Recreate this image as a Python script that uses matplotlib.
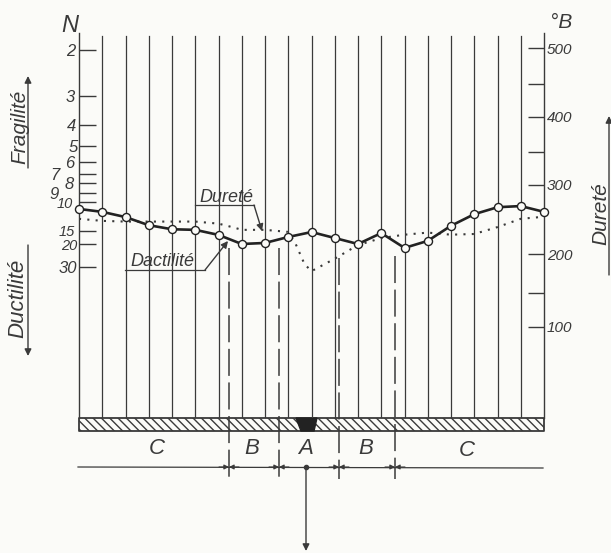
import matplotlib
matplotlib.use('Agg')
import matplotlib.pyplot as plt
import numpy as np

plt.rcParams['font.family'] = ['Liberation Sans', 'DejaVu Sans']
plt.rcParams['font.style'] = 'italic'
plt.rcParams['hatch.linewidth'] = 1.0
plt.rcParams['hatch.color'] = '#3a3a3a'

INK = '#3a3a3a'
PAPER = '#fbfbf8'

# stations along the welded plate
stations = np.arange(21)

# solid curve, read on the left N scale
ductilite_n = [11.2, 11.7, 12.6, 14.0, 14.7, 14.8, 16.5, 20.0, 19.6, 17.3, 15.4,
               17.7, 20.0, 15.8, 21.7, 18.8, 14.1, 12.1, 10.9, 10.7, 11.7]

# dotted curve, read on the right Brinell scale
durete_x = [0, 1, 2, 3, 4, 5, 6, 6.7, 7, 8, 9, 9.3, 9.7, 10, 11, 12, 13, 14, 15, 16, 17, 18, 19, 20]
durete_hb = [251, 248, 247, 247, 247, 247, 244, 238, 235, 235, 232, 216, 187, 178,
             194, 213, 223, 228, 231, 228, 229, 239, 251, 254]

# both scales are hand drawn and not quite regular, so keep where each tick sits
n_ticks = [2, 3, 4, 5, 6, 7, 8, 9, 10, 15, 20, 30]
n_tick_px = [50, 96, 125, 146, 162, 174, 183, 193, 202, 231, 244, 267]
n_labels = ['2', '3', '4', '5', '6', '7', '8', '9', '10', '15', '20', '30']
n_pads = [2.9, 2.9, 2.2, 0.7, 3.6, 13.7, 3.6, 14.6, 4.3, 2.9, 1.4, 1.4]

hb_ticks = [100, 150, 200, 300, 350, 400, 450, 500]
hb_tick_px = [327, 293, 254, 185, 152, 117, 84, 48]
hb_labels = ['100', '', '200', '300', '', '400', '', '500']

zones = ['C', 'B', 'A', 'B', 'C']
zone_x = [157, 252, 306, 366, 467]
zone_y = [449, 449, 449, 449, 451]
limits_px = [229, 279, 339, 395]
limits_top = [248, 248, 258, 256]

fig = plt.figure(figsize=(6.11, 5.53), dpi=100, facecolor=PAPER)

# page axes in pixels, for the drawing around the graph
page = fig.add_axes([0, 0, 1, 1])
page.set_xlim(0, 611)
page.set_ylim(553, 0)
page.axis('off')

left, right, top, bottom = 79, 544, 33, 418
box = [left / 611, 1 - bottom / 553, (right - left) / 611, (bottom - top) / 553]

# Brinell axis on the right
ax = fig.add_axes(box, facecolor='none')
ax.set_xlim(0, 20)
ax.set_ylim(bottom, top)
for s in ['top', 'bottom', 'left']:
    ax.spines[s].set_visible(False)
ax.spines['right'].set_color(INK)
ax.spines['right'].set_linewidth(1)
ax.yaxis.tick_right()
ax.set_yticks(hb_tick_px, hb_labels)
ax.tick_params(axis='y', direction='in', length=11.5, width=1, color=INK, pad=2,
               labelsize=11, labelcolor=INK)
ax.set_xticks([])

for s in stations[1:-1]:
    ax.plot([s, s], [bottom, 36], color=INK, lw=0.9, zorder=1)

durete_y = np.interp(durete_hb, hb_ticks, hb_tick_px)
ax.plot(durete_x, durete_y, color=INK, lw=1.5, ls=(0, (1, 3)), zorder=2)

# N axis on the left
ax_n = fig.add_axes(box, facecolor='none')
ax_n.set_xlim(0, 20)
ax_n.set_ylim(bottom, top)
for s in ['top', 'bottom', 'right']:
    ax_n.spines[s].set_visible(False)
ax_n.spines['left'].set_color(INK)
ax_n.spines['left'].set_linewidth(1)
ax_n.set_xticks([])
ax_n.set_yticks(n_tick_px, n_labels)
ax_n.tick_params(axis='y', direction='in', length=12.5, width=1, color=INK,
                 labelsize=12, labelcolor=INK)
for t, p in zip(ax_n.yaxis.get_major_ticks(), n_pads):
    t.set_pad(p)
for lab in ax_n.get_yticklabels():
    if lab.get_text() in ('10', '15', '20'):
        lab.set_fontsize(10.5)

ductilite_y = np.interp(ductilite_n, n_ticks, n_tick_px)
ax_n.plot(stations, ductilite_y, color='#222222', lw=1.9, marker='o', ms=5.8,
          mfc=PAPER, mec='#222222', mew=1, zorder=5, clip_on=False)

# axis titles
page.text(61, 25, 'N', fontsize=17, color=INK, ha='left', va='center')
page.text(550, 23, '°B', fontsize=15, color=INK, ha='left', va='center')

# side labels with their arrows
page.text(20, 127, 'Fragilité', rotation=90, fontsize=15, color=INK, ha='center', va='center')
page.text(18, 298, 'Ductilité', rotation=90, fontsize=16, color=INK, ha='center', va='center')
page.text(601, 214, 'Dureté', rotation=90, fontsize=15, color=INK, ha='center', va='center')
arrow = dict(arrowstyle='-|>', color=INK, lw=1, mutation_scale=10, shrinkA=0, shrinkB=0)
page.annotate('', xy=(28, 76), xytext=(28, 168), arrowprops=arrow)
page.annotate('', xy=(28, 356), xytext=(28, 245), arrowprops=arrow)
page.annotate('', xy=(609, 116), xytext=(609, 275), arrowprops=arrow)

# curve labels with leaders
page.text(226, 198, 'Dureté', fontsize=13, color=INK, ha='center', va='center', zorder=6)
page.plot([195, 254], [205, 205], color=INK, lw=0.9)
page.annotate('', xy=(262, 231), xytext=(254, 205), arrowprops=arrow)
page.text(162, 262, 'Dactilité', fontsize=13, color=INK, ha='center', va='center', zorder=6,
          bbox=dict(fc=PAPER, ec='none', pad=1))
page.plot([125, 205], [270, 270], color=INK, lw=0.9, zorder=6)
page.annotate('', xy=(228, 241), xytext=(205, 270), arrowprops=arrow)

# welded plate
page.fill_between([left, right], 418, 431, facecolor=PAPER, edgecolor=INK, hatch='\\\\\\\\', lw=1.3)
page.fill([296, 317, 314, 301], [418, 418, 431, 431], color='#222222', zorder=3)

# zone limits
for x, y0 in zip(limits_px, limits_top):
    page.plot([x, x], [y0, 479], color=INK, lw=1.1, ls=(0, (17.7, 4.3)), zorder=2.5)

for z, x, y in zip(zones, zone_x, zone_y):
    page.text(x, y, z, fontsize=16, color=INK, ha='center', va='center')

# dimension line
page.plot([78, 543], [467, 468], color=INK, lw=0.9)
small = dict(arrowstyle='-|>', color=INK, lw=0.8, mutation_scale=7, shrinkA=0, shrinkB=0)
for x in limits_px:
    page.annotate('', xy=(x, 467), xytext=(x - 10, 467), arrowprops=small)
    page.annotate('', xy=(x, 467), xytext=(x + 10, 467), arrowprops=small)

page.plot([306], [467], 'o', color=INK, ms=3)
page.annotate('', xy=(306, 551), xytext=(306, 467), arrowprops=arrow)

fig.savefig('out.png', dpi=100, facecolor=PAPER)
